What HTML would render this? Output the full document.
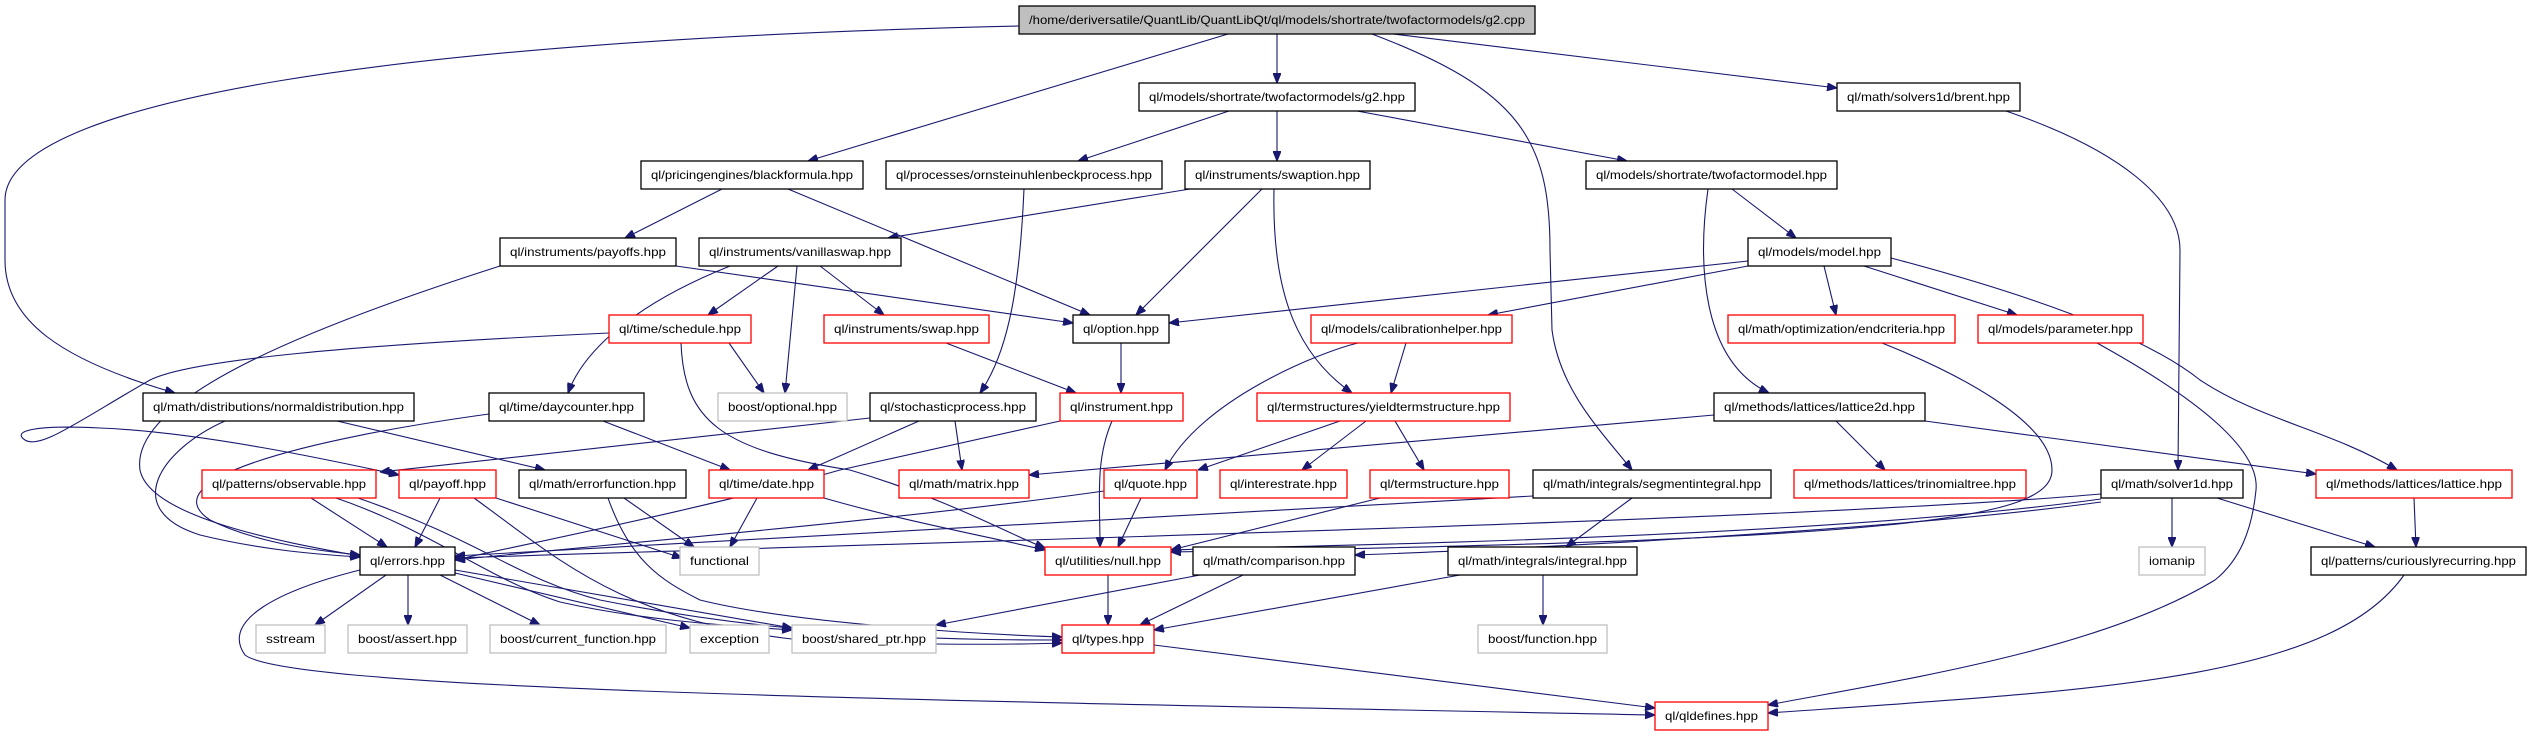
<!DOCTYPE html>
<html><head><meta charset="utf-8"><style>
html,body{margin:0;padding:0;background:#fff;}
svg{display:block;}
text{font-family:"Liberation Sans",sans-serif;font-size:12px;fill:#000;}
.n{fill:#fff;stroke:#000;stroke-width:1.3;}
.r{fill:#fff;stroke:#ff0000;stroke-width:1.3;}
.g{fill:#fff;stroke:#bfbfbf;stroke-width:1.3;}
.t{fill:#bfbfbf;stroke:#000;stroke-width:1.3;}
path{fill:none;stroke:#191970;stroke-width:1.1;}
</style></head><body>
<svg width="2531" height="736" viewBox="0 0 2531 736" xmlns="http://www.w3.org/2000/svg">
<defs><marker id="a" markerUnits="userSpaceOnUse" markerWidth="10" markerHeight="8" refX="10" refY="4" orient="auto"><path d="M0,0 L10,4 L0,8 z" style="fill:#191970;stroke:#191970"/></marker></defs>
<g marker-end="url(#a)">
<path d="M1228,34 L808,161"/>
<path d="M1277,34 L1277,83"/>
<path d="M1393,34 L1837,88"/>
<path d="M1019,26 C400,40 5,100 5,200 L5,260 C5,320 60,360 175,393"/>
<path d="M1372,34 C1520,90 1550,140 1550,250 L1552,330 C1560,390 1600,430 1632,470"/>
<path d="M1229,111 L1078,161"/>
<path d="M1277,111 L1277,161"/>
<path d="M1357,111 L1627,161"/>
<path d="M722,189 L625,238"/>
<path d="M788,189 L1090,315"/>
<path d="M1190,189 L888,238"/>
<path d="M1262,189 L1136,315"/>
<path d="M1274,189 C1272,280 1290,350 1352,393"/>
<path d="M1024,189 C1020,280 1010,350 980,393"/>
<path d="M1732,189 L1796,238"/>
<path d="M1708,189 C1698,260 1700,360 1769,393"/>
<path d="M2006,111 C2120,150 2180,200 2180,250 L2178,470"/>
<path d="M500,266 C300,330 130,400 140,470 C150,520 300,545 360,556"/>
<path d="M676,266 L1073,323"/>
<path d="M778,266 L708,315"/>
<path d="M820,266 L884,315"/>
<path d="M797,266 L785,393"/>
<path d="M730,266 C620,310 580,360 568,393"/>
<path d="M1748,261 L1169,323"/>
<path d="M1748,266 L1488,315"/>
<path d="M1824,266 L1836,315"/>
<path d="M1864,266 L2017,315"/>
<path d="M1891,258 C2050,300 2150,340 2200,380 C2260,420 2330,430 2397,470"/>
<path d="M729,343 L764,393"/>
<path d="M681,343 C684,420 720,450 850,470 C950,500 1000,530 1045,548"/>
<path d="M609,333 C350,345 190,360 150,380 C80,420 40,450 25,440 C10,430 40,425 100,428 C200,432 330,460 399,475"/>
<path d="M946,343 L1076,393"/>
<path d="M1121,343 L1121,393"/>
<path d="M1358,343 C1320,352 1200,400 1165,470"/>
<path d="M1406,343 L1391,393"/>
<path d="M919,421 L808,470"/>
<path d="M955,421 L962,470"/>
<path d="M870,418 L380,472"/>
<path d="M1112,421 C1095,460 1100,500 1100,547"/>
<path d="M1060,421 L840,470 C700,510 520,545 455,560"/>
<path d="M1340,421 L1198,470"/>
<path d="M1366,421 L1302,470"/>
<path d="M1395,421 L1424,470"/>
<path d="M1714,415 L1029,475"/>
<path d="M1836,421 L1885,470"/>
<path d="M1925,421 L2316,474"/>
<path d="M225,421 C160,450 120,510 200,535 C270,552 330,555 360,557"/>
<path d="M337,421 L545,470"/>
<path d="M603,421 L730,470"/>
<path d="M489,414 C300,440 150,480 210,520 C260,545 330,552 360,555"/>
<path d="M311,498 L387,547"/>
<path d="M336,498 C430,530 490,580 560,602 C640,620 720,625 792,630"/>
<path d="M358,498 C480,540 520,580 600,600 C800,640 980,640 1062,640"/>
<path d="M440,498 L415,547"/>
<path d="M496,498 L682,558"/>
<path d="M474,498 C560,560 620,620 800,640 C900,645 1000,645 1062,643"/>
<path d="M624,498 L694,547"/>
<path d="M608,498 C630,560 660,580 700,600 C800,625 1000,635 1062,637"/>
<path d="M757,498 L730,547"/>
<path d="M824,498 C900,520 980,535 1045,550"/>
<path d="M1104,491 C900,520 600,545 455,560"/>
<path d="M1141,498 L1118,547"/>
<path d="M1380,498 L1171,550"/>
<path d="M1632,498 L1566,547"/>
<path d="M1533,496 C1100,520 700,540 455,556"/>
<path d="M2101,494 C1800,520 1000,540 455,558"/>
<path d="M2101,499 C1800,540 1300,545 1171,550"/>
<path d="M2101,502 C1900,530 1500,550 1355,555"/>
<path d="M2172,498 L2172,547"/>
<path d="M2217,498 L2375,547"/>
<path d="M1882,343 C1950,370 2052,420 2052,470 C2052,520 1900,540 1171,552"/>
<path d="M2097,343 C2200,400 2260,450 2256,490 C2252,530 2240,560 2215,580 C2100,650 1900,680 1768,705"/>
<path d="M2414,498 L2416,547"/>
<path d="M386,575 L315,625"/>
<path d="M408,575 L408,625"/>
<path d="M440,575 L540,625"/>
<path d="M455,573 L690,628"/>
<path d="M455,570 L792,628"/>
<path d="M360,570 C280,590 220,620 245,655 C290,690 900,700 1655,715"/>
<path d="M1108,575 L1108,625"/>
<path d="M1243,575 L1140,625"/>
<path d="M1200,575 L936,625"/>
<path d="M1460,575 L1154,630"/>
<path d="M1543,575 L1543,625"/>
<path d="M1154,645 L1655,708"/>
<path d="M2404,575 C2330,680 2100,690 1768,713"/>
</g>
<g>
<rect class="t" x="1019" y="6" width="516" height="28"/><text x="1277" y="24" text-anchor="middle" textLength="496" lengthAdjust="spacingAndGlyphs">/home/deriversatile/QuantLib/QuantLibQt/ql/models/shortrate/twofactormodels/g2.cpp</text>
<rect class="n" x="1139" y="83" width="276" height="28"/><text x="1277" y="101" text-anchor="middle" textLength="256" lengthAdjust="spacingAndGlyphs">ql/models/shortrate/twofactormodels/g2.hpp</text>
<rect class="n" x="1837" y="83" width="183" height="28"/><text x="1928.5" y="101" text-anchor="middle" textLength="163" lengthAdjust="spacingAndGlyphs">ql/math/solvers1d/brent.hpp</text>
<rect class="n" x="641" y="161" width="222" height="28"/><text x="752" y="179" text-anchor="middle" textLength="202" lengthAdjust="spacingAndGlyphs">ql/pricingengines/blackformula.hpp</text>
<rect class="n" x="886" y="161" width="276" height="28"/><text x="1024" y="179" text-anchor="middle" textLength="256" lengthAdjust="spacingAndGlyphs">ql/processes/ornsteinuhlenbeckprocess.hpp</text>
<rect class="n" x="1185" y="161" width="185" height="28"/><text x="1277.5" y="179" text-anchor="middle" textLength="165" lengthAdjust="spacingAndGlyphs">ql/instruments/swaption.hpp</text>
<rect class="n" x="1586" y="161" width="251" height="28"/><text x="1711.5" y="179" text-anchor="middle" textLength="231" lengthAdjust="spacingAndGlyphs">ql/models/shortrate/twofactormodel.hpp</text>
<rect class="n" x="500" y="238" width="176" height="28"/><text x="588" y="256" text-anchor="middle" textLength="156" lengthAdjust="spacingAndGlyphs">ql/instruments/payoffs.hpp</text>
<rect class="n" x="699" y="238" width="202" height="28"/><text x="800" y="256" text-anchor="middle" textLength="182" lengthAdjust="spacingAndGlyphs">ql/instruments/vanillaswap.hpp</text>
<rect class="n" x="1748" y="238" width="143" height="28"/><text x="1819.5" y="256" text-anchor="middle" textLength="123" lengthAdjust="spacingAndGlyphs">ql/models/model.hpp</text>
<rect class="r" x="609" y="315" width="142" height="28"/><text x="680" y="333" text-anchor="middle" textLength="122" lengthAdjust="spacingAndGlyphs">ql/time/schedule.hpp</text>
<rect class="r" x="824" y="315" width="165" height="28"/><text x="906.5" y="333" text-anchor="middle" textLength="145" lengthAdjust="spacingAndGlyphs">ql/instruments/swap.hpp</text>
<rect class="n" x="1073" y="315" width="96" height="28"/><text x="1121" y="333" text-anchor="middle" textLength="76" lengthAdjust="spacingAndGlyphs">ql/option.hpp</text>
<rect class="r" x="1311" y="315" width="201" height="28"/><text x="1411.5" y="333" text-anchor="middle" textLength="181" lengthAdjust="spacingAndGlyphs">ql/models/calibrationhelper.hpp</text>
<rect class="r" x="1728" y="315" width="227" height="28"/><text x="1841.5" y="333" text-anchor="middle" textLength="207" lengthAdjust="spacingAndGlyphs">ql/math/optimization/endcriteria.hpp</text>
<rect class="r" x="1978" y="315" width="165" height="28"/><text x="2060.5" y="333" text-anchor="middle" textLength="145" lengthAdjust="spacingAndGlyphs">ql/models/parameter.hpp</text>
<rect class="n" x="143" y="393" width="271" height="28"/><text x="278.5" y="411" text-anchor="middle" textLength="251" lengthAdjust="spacingAndGlyphs">ql/math/distributions/normaldistribution.hpp</text>
<rect class="n" x="489" y="393" width="155" height="28"/><text x="566.5" y="411" text-anchor="middle" textLength="135" lengthAdjust="spacingAndGlyphs">ql/time/daycounter.hpp</text>
<rect class="g" x="718" y="393" width="129" height="28"/><text x="782.5" y="411" text-anchor="middle" textLength="109" lengthAdjust="spacingAndGlyphs">boost/optional.hpp</text>
<rect class="n" x="870" y="393" width="166" height="28"/><text x="953" y="411" text-anchor="middle" textLength="146" lengthAdjust="spacingAndGlyphs">ql/stochasticprocess.hpp</text>
<rect class="r" x="1060" y="393" width="123" height="28"/><text x="1121.5" y="411" text-anchor="middle" textLength="103" lengthAdjust="spacingAndGlyphs">ql/instrument.hpp</text>
<rect class="r" x="1257" y="393" width="253" height="28"/><text x="1383.5" y="411" text-anchor="middle" textLength="233" lengthAdjust="spacingAndGlyphs">ql/termstructures/yieldtermstructure.hpp</text>
<rect class="n" x="1714" y="393" width="211" height="28"/><text x="1819.5" y="411" text-anchor="middle" textLength="191" lengthAdjust="spacingAndGlyphs">ql/methods/lattices/lattice2d.hpp</text>
<rect class="r" x="202" y="470" width="174" height="28"/><text x="289" y="488" text-anchor="middle" textLength="154" lengthAdjust="spacingAndGlyphs">ql/patterns/observable.hpp</text>
<rect class="r" x="399" y="470" width="97" height="28"/><text x="447.5" y="488" text-anchor="middle" textLength="77" lengthAdjust="spacingAndGlyphs">ql/payoff.hpp</text>
<rect class="n" x="519" y="470" width="167" height="28"/><text x="602.5" y="488" text-anchor="middle" textLength="147" lengthAdjust="spacingAndGlyphs">ql/math/errorfunction.hpp</text>
<rect class="r" x="709" y="470" width="115" height="28"/><text x="766.5" y="488" text-anchor="middle" textLength="95" lengthAdjust="spacingAndGlyphs">ql/time/date.hpp</text>
<rect class="r" x="899" y="470" width="130" height="28"/><text x="964" y="488" text-anchor="middle" textLength="110" lengthAdjust="spacingAndGlyphs">ql/math/matrix.hpp</text>
<rect class="r" x="1104" y="470" width="93" height="28"/><text x="1150.5" y="488" text-anchor="middle" textLength="73" lengthAdjust="spacingAndGlyphs">ql/quote.hpp</text>
<rect class="r" x="1220" y="470" width="127" height="28"/><text x="1283.5" y="488" text-anchor="middle" textLength="107" lengthAdjust="spacingAndGlyphs">ql/interestrate.hpp</text>
<rect class="r" x="1370" y="470" width="139" height="28"/><text x="1439.5" y="488" text-anchor="middle" textLength="119" lengthAdjust="spacingAndGlyphs">ql/termstructure.hpp</text>
<rect class="n" x="1533" y="470" width="238" height="28"/><text x="1652" y="488" text-anchor="middle" textLength="218" lengthAdjust="spacingAndGlyphs">ql/math/integrals/segmentintegral.hpp</text>
<rect class="r" x="1794" y="470" width="232" height="28"/><text x="1910" y="488" text-anchor="middle" textLength="212" lengthAdjust="spacingAndGlyphs">ql/methods/lattices/trinomialtree.hpp</text>
<rect class="n" x="2101" y="470" width="142" height="28"/><text x="2172" y="488" text-anchor="middle" textLength="122" lengthAdjust="spacingAndGlyphs">ql/math/solver1d.hpp</text>
<rect class="r" x="2316" y="470" width="196" height="28"/><text x="2414" y="488" text-anchor="middle" textLength="176" lengthAdjust="spacingAndGlyphs">ql/methods/lattices/lattice.hpp</text>
<rect class="n" x="360" y="547" width="95" height="28"/><text x="407.5" y="565" text-anchor="middle" textLength="75" lengthAdjust="spacingAndGlyphs">ql/errors.hpp</text>
<rect class="g" x="680" y="547" width="79" height="28"/><text x="719.5" y="565" text-anchor="middle" textLength="59" lengthAdjust="spacingAndGlyphs">functional</text>
<rect class="r" x="1045" y="547" width="126" height="28"/><text x="1108" y="565" text-anchor="middle" textLength="106" lengthAdjust="spacingAndGlyphs">ql/utilities/null.hpp</text>
<rect class="n" x="1193" y="547" width="162" height="28"/><text x="1274" y="565" text-anchor="middle" textLength="142" lengthAdjust="spacingAndGlyphs">ql/math/comparison.hpp</text>
<rect class="n" x="1448" y="547" width="189" height="28"/><text x="1542.5" y="565" text-anchor="middle" textLength="169" lengthAdjust="spacingAndGlyphs">ql/math/integrals/integral.hpp</text>
<rect class="g" x="2139" y="547" width="66" height="28"/><text x="2172" y="565" text-anchor="middle" textLength="46" lengthAdjust="spacingAndGlyphs">iomanip</text>
<rect class="n" x="2311" y="547" width="215" height="28"/><text x="2418.5" y="565" text-anchor="middle" textLength="195" lengthAdjust="spacingAndGlyphs">ql/patterns/curiouslyrecurring.hpp</text>
<rect class="g" x="256" y="625" width="69" height="28"/><text x="290.5" y="643" text-anchor="middle" textLength="49" lengthAdjust="spacingAndGlyphs">sstream</text>
<rect class="g" x="348" y="625" width="119" height="28"/><text x="407.5" y="643" text-anchor="middle" textLength="99" lengthAdjust="spacingAndGlyphs">boost/assert.hpp</text>
<rect class="g" x="490" y="625" width="176" height="28"/><text x="578" y="643" text-anchor="middle" textLength="156" lengthAdjust="spacingAndGlyphs">boost/current_function.hpp</text>
<rect class="g" x="690" y="625" width="79" height="28"/><text x="729.5" y="643" text-anchor="middle" textLength="59" lengthAdjust="spacingAndGlyphs">exception</text>
<rect class="g" x="792" y="625" width="144" height="28"/><text x="864" y="643" text-anchor="middle" textLength="124" lengthAdjust="spacingAndGlyphs">boost/shared_ptr.hpp</text>
<rect class="r" x="1062" y="625" width="92" height="28"/><text x="1108" y="643" text-anchor="middle" textLength="72" lengthAdjust="spacingAndGlyphs">ql/types.hpp</text>
<rect class="g" x="1478" y="625" width="129" height="28"/><text x="1542.5" y="643" text-anchor="middle" textLength="109" lengthAdjust="spacingAndGlyphs">boost/function.hpp</text>
<rect class="r" x="1655" y="702" width="113" height="28"/><text x="1711.5" y="720" text-anchor="middle" textLength="93" lengthAdjust="spacingAndGlyphs">ql/qldefines.hpp</text>
</g>
</svg>
</body></html>
